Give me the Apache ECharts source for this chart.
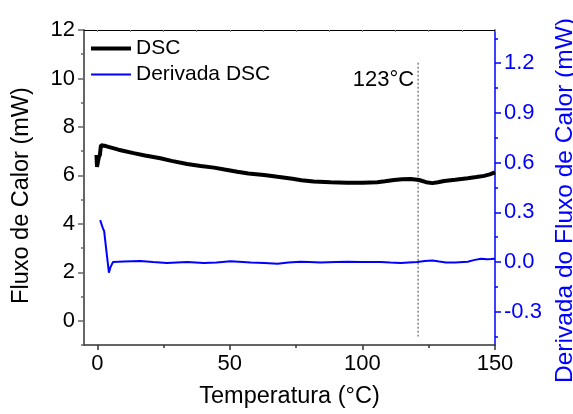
<!DOCTYPE html>
<html><head><meta charset="utf-8">
<script src="https://cdn.jsdelivr.net/npm/echarts@6/dist/echarts.min.js"></script>
<style>html,body{margin:0;padding:0;background:#fff}#c{width:573px;height:414px}</style>
</head><body><div id="c"></div>
<script>
// DSC heat flow (left axis, mW) : [temperature °C, value]
const dscData = [[-0.3,6.85],[-0.1,6.35],[0.2,6.3],[0.6,6.75],[1.0,6.85],[1.4,7.25],[1.9,7.29],[3.2,7.21],[8,7.06],[13.7,6.92],[18,6.82],[23.8,6.71],[28,6.6],[33.9,6.47],[39,6.39],[44,6.32],[48,6.24],[52.8,6.15],[57,6.08],[62.9,6.02],[68,5.94],[73.6,5.86],[77,5.8],[81.6,5.75],[88,5.72],[94.2,5.70],[100,5.70],[105.6,5.72],[108.5,5.76],[111.9,5.81],[115,5.84],[118.2,5.85],[121.4,5.81],[124,5.72],[126.4,5.68],[128.5,5.72],[130.8,5.77],[135,5.82],[139.7,5.88],[143,5.93],[145.9,5.98],[148,6.04],[150,6.12]];
// Derivative of DSC (right axis)
const derivData = [[1.1,0.253],[2.0,0.21],[2.6,0.187],[3.5,0.06],[4.4,-0.064],[5.0,-0.03],[5.9,0.0],[10,0.003],[16.3,0.006],[21,0.0],[26.3,-0.006],[30,-0.003],[33.9,0.0],[40.2,-0.006],[45,-0.002],[50.3,0.005],[57.9,-0.003],[63,-0.006],[68,-0.01],[72,-0.003],[76.6,0.002],[80,0.0],[84.1,-0.003],[90,0.0],[94.2,0.002],[100,0.0],[106.9,0.0],[110.5,-0.003],[114.4,-0.005],[117.5,-0.002],[120.7,0.001],[123.5,0.006],[126.4,0.01],[129,0.003],[131.5,-0.003],[135,-0.002],[139.7,0.002],[142,0.012],[144.7,0.02],[147,0.017],[148.5,0.018],[150,0.02]];
// Vertical marker line at the transition
const markerLine = [[121,10.65],[121,-0.65]];
const markerText = [[121,9.94]];
const markerLabel = '123°C';
// Tick values
const xTicks = [0,50,100,150];
const xMinorTicks = [25,75,125];
const xTopTicks = [0,12.5,25,37.5,50,62.5,75,87.5,100,112.5,125,137.5,150];
const yLeftTicks = [0,2,4,6,8,10,12];
const yLeftMinor = [-1,1,3,5,7,9,11];
const yRightTicks = [-0.3,0,0.3,0.6,0.9,1.2];
const yRightMinor = [-0.45,-0.15,0.15,0.45,0.75,1.05,1.35];
const seriesNames = ['DSC','Derivada DSC'];

const FONT = 'Liberation Sans';
const chart = echarts.init(document.getElementById('c'));
const blue = '#0000ff';
chart.setOption({
  animation:false,
  textStyle:{fontFamily:FONT},
  grid:{left:84,right:78,top:30,bottom:69,outerBoundsMode:'none',containLabel:false},
  legend:{
    data:[
      {name:seriesNames[0],icon:'path://M0,0H40V4H0Z',itemStyle:{color:'#000'}},
      {name:seriesNames[1],icon:'path://M0,0H40V2H0Z',itemStyle:{color:blue}}
    ],
    orient:'vertical', left:86, top:33, itemWidth:40, itemHeight:16, itemGap:5,
    textStyle:{fontFamily:FONT,fontSize:21,color:'#000'}
  },
  xAxis:[
    {type:'value',min:-5,max:150,position:'bottom',
     name:'Temperatura (°C)',nameLocation:'middle',nameGap:40,
     nameTextStyle:{fontFamily:FONT,fontSize:23.5,color:'#000'},
     axisLine:{show:true,onZero:false,lineStyle:{color:'#333',width:1.5}},
     axisTick:{show:true,customValues:xTicks,length:5,lineStyle:{color:'#333',width:1.5}},
     axisLabel:{customValues:xTicks,fontFamily:FONT,fontSize:22,color:'#000',margin:8},
     splitLine:{show:false}},
    {type:'value',min:-5,max:150,position:'bottom',
     axisLine:{show:false,onZero:false},axisLabel:{show:false},splitLine:{show:false},
     axisTick:{show:true,customValues:xMinorTicks,length:3,lineStyle:{color:'#333',width:1.5}}},
    {type:'value',min:-5,max:150,position:'top',
     axisLine:{show:true,onZero:false,lineStyle:{color:'#000',width:1}},axisLabel:{show:false},splitLine:{show:false},
     axisTick:{show:true,inside:true,customValues:xTopTicks,length:2,lineStyle:{color:'#888',width:1}}}
  ],
  yAxis:[
    {type:'value',min:-1,max:12,position:'left',
     name:'Fluxo de Calor (mW)',nameLocation:'middle',nameGap:50,
     nameTextStyle:{fontFamily:FONT,fontSize:23.5,color:'#000',padding:[0,16,0,0]},
     axisLine:{show:true,onZero:false,lineStyle:{color:'#666',width:2}},
     axisTick:{show:true,customValues:yLeftTicks,length:6,lineStyle:{color:'#666',width:1.5}},
     axisLabel:{customValues:yLeftTicks,fontFamily:FONT,fontSize:22,color:'#000',margin:9},
     splitLine:{show:false}},
    {type:'value',min:-0.5,max:1.4,position:'right',
     name:'Derivada do Fluxo de Calor (mW)',nameLocation:'middle',nameGap:47,
     nameTextStyle:{fontFamily:FONT,fontSize:24.5,color:blue,padding:[0,26,0,0]},
     axisLine:{show:true,onZero:false,lineStyle:{color:blue,width:1.5}},
     axisTick:{show:true,customValues:yRightTicks,length:6,lineStyle:{color:blue,width:1.5}},
     axisLabel:{customValues:yRightTicks,fontFamily:FONT,fontSize:22,color:blue,margin:9,
       formatter:v=>(Math.abs(v)<1e-9?0:v).toFixed(1)},
     splitLine:{show:false}},
    {type:'value',min:-1,max:12,position:'left',
     axisLine:{show:false,onZero:false},axisLabel:{show:false},splitLine:{show:false},
     axisTick:{show:true,customValues:yLeftMinor,length:3,lineStyle:{color:'#666',width:1.5}}},
    {type:'value',min:-0.5,max:1.4,position:'right',
     axisLine:{show:false,onZero:false},axisLabel:{show:false},splitLine:{show:false},
     axisTick:{show:true,customValues:yRightMinor,length:3,lineStyle:{color:blue,width:1.5}}}
  ],
  series:[
    {name:seriesNames[0],type:'line',xAxisIndex:0,yAxisIndex:0,data:dscData,showSymbol:false,symbol:'none',
     lineStyle:{color:'#000',width:4},itemStyle:{color:'#000'},z:3},
    {name:seriesNames[1],type:'line',xAxisIndex:0,yAxisIndex:1,data:derivData,showSymbol:false,symbol:'none',
     lineStyle:{color:blue,width:2},itemStyle:{color:blue},z:3},
    {name:'marker',type:'line',xAxisIndex:0,yAxisIndex:0,data:markerLine,showSymbol:false,symbol:'none',silent:true,
     lineStyle:{color:'#444',width:1,type:[2,2]},z:2},
    {name:'markerText',type:'scatter',xAxisIndex:0,yAxisIndex:0,data:markerText,symbolSize:0,silent:true,
     itemStyle:{opacity:1},
     label:{show:true,position:'left',distance:4,formatter:markerLabel,fontFamily:FONT,fontSize:22,color:'#000',opacity:1}}
  ]
});
</script></body></html>
